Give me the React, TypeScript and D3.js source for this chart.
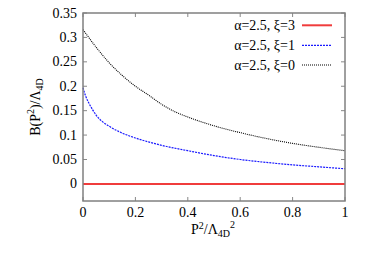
import React from "react";
import * as d3 from "d3";

const W = 365, H = 263;
const xTicks = [0, 0.2, 0.4, 0.6, 0.8, 1];
const yTicks = [0, 0.05, 0.1, 0.15, 0.2, 0.25, 0.3, 0.35];
const yTickLabels = ["0", "0.05", "0.1", "0.15", "0.2", "0.25", "0.3", "0.35"];
const xTickLabels = ["0", "0.2", "0.4", "0.6", "0.8", "1"];

const pBlack = [0, 0.05, 0.1, 0.15, 0.2, 0.25, 0.3, 0.35, 0.4, 0.5, 0.6, 0.7, 0.8, 0.9, 1.0];
const vBlack = [0.316, 0.28, 0.248, 0.222, 0.2, 0.182, 0.163, 0.148, 0.137, 0.119, 0.105, 0.093, 0.083, 0.075, 0.068];

const pBlue = [0, 0.005, 0.01, 0.025, 0.05, 0.075, 0.1, 0.15, 0.2, 0.25, 0.3, 0.4, 0.5, 0.6, 0.7, 0.8, 0.9, 1.0];
const vBlue = [0.197, 0.188, 0.18, 0.163, 0.141, 0.127, 0.118, 0.104, 0.094, 0.086, 0.079, 0.068, 0.058, 0.05, 0.044, 0.039, 0.035, 0.031];

const pRed = [0, 1];
const vRed = [0, 0];

const seriesNames = ["α=2.5, ξ=3", "α=2.5, ξ=1", "α=2.5, ξ=0"];

export default function App() {
  const left = 83, right = 345, top = 13, bottom = 201;
  const x = d3.scaleLinear().domain([0, 1]).range([left, right]);
  const y = d3.scaleLinear().domain([-0.035, 0.35]).range([bottom, top]);
  const line = (ps: number[], vs: number[]) =>
    d3.line<number>().x((_, i) => x(ps[i])).y((v) => y(v)).curve(d3.curveMonotoneX)(vs) || "";

  const font = "'Liberation Serif', 'DejaVu Serif', serif";
  const styles = [
    { color: "#f03c3c", dash: undefined, width: 2 },
    { color: "#1a1aff", dash: "2,1", width: 1.2 },
    { color: "#000", dash: "1,1", width: 1.1 },
  ];
  const legendY = [25.3, 45.3, 65];
  const tl = 4;

  return (
    <svg width={W} height={H} style={{ position: "absolute", left: 0, top: 0, background: "#fff" }} fontFamily={font}>
      {xTicks.map((t, i) => (
        <g key={"xt" + i}>
          <line x1={x(t)} x2={x(t)} y1={bottom} y2={bottom - tl} stroke="#888" />
          <line x1={x(t)} x2={x(t)} y1={top} y2={top + tl} stroke="#888" />
          <text x={x(t)} y={217} fontSize={14} textAnchor="middle" fill="#000">{xTickLabels[i]}</text>
        </g>
      ))}
      {yTicks.map((t, i) => (
        <g key={"yt" + i}>
          <line x1={left} x2={left + tl} y1={y(t)} y2={y(t)} stroke="#888" />
          <line x1={right} x2={right - tl} y1={y(t)} y2={y(t)} stroke="#888" />
          <text x={77} y={y(t) + 4.5} fontSize={14} textAnchor="end" fill="#000">{yTickLabels[i]}</text>
        </g>
      ))}
      <path d={line(pRed, vRed)} fill="none" stroke={styles[0].color} strokeWidth={styles[0].width} />
      <path d={line(pBlue, vBlue)} fill="none" stroke={styles[1].color} strokeWidth={styles[1].width} strokeDasharray={styles[1].dash} />
      <path d={line(pBlack, vBlack)} fill="none" stroke={styles[2].color} strokeWidth={styles[2].width} strokeDasharray={styles[2].dash} />
      <rect x={left} y={top} width={right - left} height={bottom - top} fill="none" stroke="#808080" strokeWidth={1.5} />
      {seriesNames.map((n, i) => (
        <g key={"lg" + i}>
          <text x={295} y={legendY[i] + 5} fontSize={14} textAnchor="end" fill="#000">{n}</text>
          <line x1={302} x2={332} y1={legendY[i]} y2={legendY[i]} stroke={styles[i].color} strokeWidth={styles[i].width} strokeDasharray={styles[i].dash} />
        </g>
      ))}
      <text x={213} y={234} fontSize={14} textAnchor="middle" fill="#000">
        P<tspan dy={-5} fontSize={10}>2</tspan><tspan dy={5}>/Λ</tspan><tspan dy={3} fontSize={10}>4D</tspan><tspan dy={-9} fontSize={10}>2</tspan>
      </text>
      <text transform="translate(40,107) rotate(-90)" fontSize={14} textAnchor="middle" fill="#000">
        B(P<tspan dy={-6} fontSize={10}>2</tspan><tspan dy={6}>)/Λ</tspan><tspan dy={3} fontSize={10}>4D</tspan>
      </text>
    </svg>
  );
}
